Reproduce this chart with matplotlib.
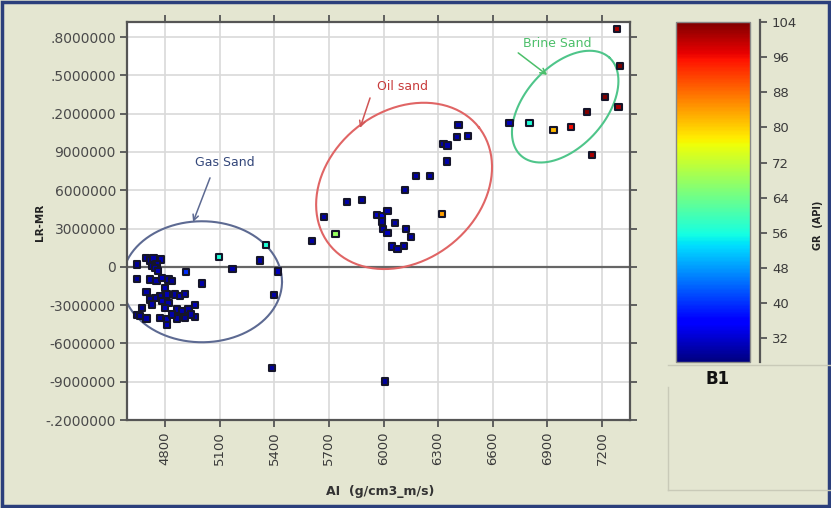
import numpy as np
import matplotlib
matplotlib.use("Agg")
import matplotlib.pyplot as plt
from matplotlib.lines import Line2D
from matplotlib.patches import Rectangle

# AI (x), LR-MR (y), GR (colour)
gas_ai = [4645, 4694, 4718, 4736, 4778, 4754, 4727, 4745, 4763, 4914, 4645, 4718, 4754, 4782,
          4818, 4837, 5002, 4699, 4800, 4809, 4773, 4745, 4718, 4855, 4882, 4910, 4782, 4818,
          4727, 4672, 4800, 4864, 4965, 4892, 4928, 4645, 4699, 4773, 4809, 4864, 4910, 4965,
          4943, 4809, 4837, 4663]
gas_lm = [0.018, 0.070, 0.049, 0.065, 0.057, 0.023, 0.005, -0.008, -0.034, -0.039, -0.094, -0.099,
          -0.112, -0.086, -0.099, -0.112, -0.131, -0.198, -0.164, -0.217, -0.229, -0.243, -0.256,
          -0.217, -0.229, -0.211, -0.269, -0.282, -0.295, -0.321, -0.321, -0.334, -0.300, -0.347,
          -0.334, -0.378, -0.405, -0.399, -0.413, -0.405, -0.399, -0.394, -0.374, -0.454, -0.374,
          -0.386]
gas_gr = [29, 30, 29, 30, 31, 30, 29, 30, 31, 40, 29, 30, 30, 31, 30, 29, 30, 30, 31, 31, 30, 30, 29,
          30, 31, 30, 31, 30, 30, 29, 31, 30, 31, 30, 30, 29, 30, 30, 31, 30, 29, 30, 30, 31, 30, 29]

other_ai = [5098, 5170, 5322, 5355, 5419, 5400, 5386, 6009]
other_lm = [0.076, -0.018, 0.049, 0.172, -0.037, -0.219, -0.793, -0.898]
other_gr = [57, 30, 30, 57, 31, 30, 29, 29]

oil_ai = [5606, 5674, 5736, 5798, 5882, 5963, 5991, 6021, 5991, 6064, 5996, 6021, 6124, 6152,
          6046, 6076, 6113, 6119, 6178, 6256, 6322, 6348, 6329, 6351, 6403, 6463, 6412]
oil_lm = [0.204, 0.389, 0.258, 0.507, 0.525, 0.407, 0.394, 0.439, 0.355, 0.342, 0.298, 0.264,
          0.298, 0.233, 0.159, 0.139, 0.164, 0.603, 0.713, 0.713, 0.415, 0.825, 0.961, 0.950,
          1.016, 1.026, 1.112]
oil_gr = [30, 30, 68, 30, 30, 32, 34, 30, 30, 30, 30, 31, 30, 30, 31, 30, 30, 30, 30, 30, 84, 30,
          30, 30, 30, 31, 30]

brine_ai = [6692, 6802, 6934, 7031, 7117, 7218, 7291, 7300, 7282, 7145]
brine_lm = [1.125, 1.125, 1.073, 1.094, 1.211, 1.329, 1.251, 1.574, 1.861, 0.877]
brine_gr = [31, 57, 82, 96, 104, 104, 101, 104, 101, 101]

x_ticks = [4800, 5100, 5400, 5700, 6000, 6300, 6600, 6900, 7200]
y_ticks = [1.8, 1.5, 1.2, 0.9, 0.6, 0.3, 0, -0.3, -0.6, -0.9, -1.2]
y_labels = [".8000000", ".5000000", ".2000000", "9000000", "6000000", "3000000", "0",
            "-3000000", "-6000000", "-9000000", "-.2000000"]
gr_ticks = [32, 40, 48, 56, 64, 72, 80, 88, 96, 104]

W, H = 831, 508
bg = "#e4e6d1"

fig = plt.figure(figsize=(W / 100, H / 100), dpi=100, facecolor=bg)


def box(x0, y0, x1, y1):
    # pixel box (top-left origin) -> figure fractions
    return [x0 / W, 1 - y1 / H, (x1 - x0) / W, (y1 - y0) / H]


ax = fig.add_axes(box(127, 22, 630, 420))
ax.set_facecolor("white")
xmin, xmax, ymin, ymax = 4591, 7354, -1.2, 1.918
ax.set_xlim(xmin, xmax)
ax.set_ylim(ymin, ymax)

ax.set_xticks(x_ticks)
ax.set_xticklabels([str(v) for v in x_ticks], rotation=90, fontsize=9.5, color="#3a3a3a")
ax.set_yticks(y_ticks)
ax.set_yticklabels(y_labels, fontsize=10, color="#4a4a4a")
ax.tick_params(direction="out", length=5, width=1.3, color="#555555",
               top=True, right=True, pad=3)
ax.grid(True, color="#d9d9d9", linewidth=1.2)
ax.set_axisbelow(True)
for s in ax.spines.values():
    s.set_color("#555555")
    s.set_linewidth(1.6)
ax.axhline(0, color="#666666", linewidth=1.6, zorder=1)

cmap = plt.get_cmap("jet")
vmin, vmax = 27, 104
all_ai = gas_ai + other_ai + oil_ai + brine_ai
all_lm = gas_lm + other_lm + oil_lm + brine_lm
all_gr = gas_gr + other_gr + oil_gr + brine_gr
sc = ax.scatter(all_ai, all_lm, c=all_gr, cmap=cmap, vmin=vmin, vmax=vmax, marker="s",
                s=21, edgecolors="#15152a", linewidths=1.5, zorder=3)

# ellipses, drawn in pixel units so the tilt looks right on screen
px_x = (630 - 127) / (xmax - xmin)
px_y = (420 - 22) / (ymax - ymin)


def ellipse(cx, cy, a, b, ang, color):
    t = np.linspace(0, 2 * np.pi, 200)
    r = np.radians(ang)
    ex = a * np.cos(t) * np.cos(r) - b * np.sin(t) * np.sin(r)
    ey = a * np.cos(t) * np.sin(r) + b * np.sin(t) * np.cos(r)
    ax.plot(cx + ex / px_x, cy + ey / px_y, color=color, linewidth=1.5, zorder=2)


ellipse(5003, -0.117, 80, 60.5, 0, "#5d6a92")
ellipse(6113, 0.634, 95, 75, 38, "#e06565")
ellipse(6998, 1.255, 66, 40, 48, "#4fc58a")

arrow = dict(arrowstyle="->", lw=1.1, shrinkA=0, shrinkB=0)
ax.text(5130, 0.814, "Gas Sand", ha="center", va="center", fontsize=9, color="#34477a")
ax.annotate("", xy=(4954, 0.352), xytext=(5047, 0.697), arrowprops=dict(arrow, color="#5d6a92"))
ax.text(6102, 1.41, "Oil sand", ha="center", va="center", fontsize=9, color="#c83c3c")
ax.annotate("", xy=(5871, 1.088), xytext=(5926, 1.323), arrowprops=dict(arrow, color="#d05555"))
ax.text(6954, 1.746, "Brine Sand", ha="center", va="center", fontsize=9, color="#4cbf6a")
ax.annotate("", xy=(6899, 1.503), xytext=(6740, 1.676), arrowprops=dict(arrow, color="#4cbf6a"))

fig.text(380 / W, 1 - 491 / H, "AI  (g/cm3_m/s)", ha="center", va="center", fontsize=9,
         fontweight="bold", color="#333333")
fig.text(40 / W, 1 - 222 / H, "LR-MR", ha="center", va="center", fontsize=7.5,
         fontweight="bold", rotation=90, color="#222222")

# colour bar
cax = fig.add_axes(box(676, 22, 750, 362))
cb = fig.colorbar(sc, cax=cax)
cb.set_ticks([])
cb.outline.set_edgecolor("#888888")
cb.outline.set_linewidth(1)

tax = fig.add_axes(box(759, 20, 759.5, 362))
tax.set_ylim(vmin - 0.5, vmax + 0.5)
tax.set_xticks([])
tax.yaxis.tick_right()
tax.set_yticks(gr_ticks)
tax.tick_params(axis="y", direction="out", length=5, width=1.3, color="#555555",
                labelsize=9.5, labelcolor="#3a3a3a", pad=4)
for k in ["top", "bottom", "left"]:
    tax.spines[k].set_visible(False)
tax.spines["right"].set_color("#555555")
tax.spines["right"].set_linewidth(1.6)
tax.patch.set_visible(False)

fig.text(818 / W, 1 - 225 / H, "GR  (API)", ha="center", va="center", fontsize=7,
         fontweight="bold", rotation=90, color="#222222")
fig.text(718 / W, 1 - 379 / H, "B1", ha="center", va="center", fontsize=12,
         fontweight="bold", color="#111111")

# empty panel lines under the colour bar
line_c = "#c9cab8"
fig.add_artist(Line2D([668 / W, 1], [1 - 365 / H, 1 - 365 / H], color=line_c, lw=1))
fig.add_artist(Line2D([668 / W, 668 / W], [1 - 387 / H, 1 - 490 / H], color=line_c, lw=1))
fig.add_artist(Line2D([668 / W, 1], [1 - 490 / H, 1 - 490 / H], color=line_c, lw=1))

# outer frame
fig.add_artist(Rectangle((0.002, 0.003), 0.996, 0.994, transform=fig.transFigure,
                         fill=False, edgecolor="#2b3f7c", linewidth=2.5))

fig.savefig("out.png", dpi=100, facecolor=bg)
